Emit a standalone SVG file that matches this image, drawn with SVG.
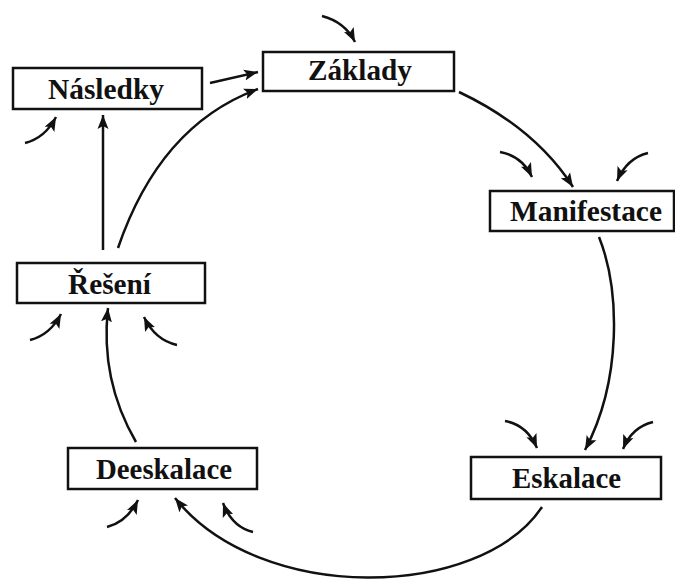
<svg xmlns="http://www.w3.org/2000/svg" width="675" height="581" viewBox="0 0 675 581">
<style>
.box{fill:#fff;stroke:#111;stroke-width:2.5}
.lbl{font-family:"Liberation Serif","Times New Roman",serif;font-weight:bold;font-size:29px;fill:#111}
.c{fill:none;stroke:#111;stroke-width:2.5;marker-end:url(#ah)}
</style>
<defs>
<marker id="ah" markerUnits="userSpaceOnUse" markerWidth="15" markerHeight="12" refX="14" refY="5.5" orient="auto" viewBox="0 0 15 11">
<path d="M0,0 L14,5.5 L0,11 L3,5.5 z" fill="#111"/>
</marker>
</defs>
<rect width="675" height="581" fill="#fff"/>
<g id="connectors">
<path class="c" d="M210,83 L258,72"/>
<path class="c" d="M118,248 Q160,125 258,89"/>
<path class="c" d="M103,250 L103,115"/>
<path class="c" d="M459,92 Q535,128 573,187"/>
<path class="c" d="M599,237 C620,290 622,380 585,450"/>
<path class="c" d="M542,507 C480,600 260,605 175,498"/>
<path class="c" d="M136,442 Q100,380 108,308"/>
<path class="c" d="M322,16 Q345,22 355,42"/>
<path class="c" d="M25,143 Q45,138 56,117"/>
<path class="c" d="M500,152 Q522,156 532,177"/>
<path class="c" d="M648,153 Q627,158 617,181"/>
<path class="c" d="M30,340 Q50,335 61,314"/>
<path class="c" d="M177,345 Q155,340 144,317"/>
<path class="c" d="M107,527 Q127,522 138,500"/>
<path class="c" d="M253,532 Q232,527 223,503"/>
<path class="c" d="M505,421 Q527,425 537,448"/>
<path class="c" d="M653,422 Q632,427 623,449"/>
</g>
<g id="nasledky"><rect class="box" x="13" y="68" width="189" height="41"/><text class="lbl" x="48" y="99" textLength="116" lengthAdjust="spacingAndGlyphs">Následky</text></g>
<g id="zaklady"><rect class="box" x="263" y="52" width="191" height="39"/><text class="lbl" x="308" y="80" textLength="104" lengthAdjust="spacingAndGlyphs">Základy</text></g>
<g id="manifestace"><rect class="box" x="490" y="191" width="184" height="40"/><text class="lbl" x="510" y="221" textLength="152" lengthAdjust="spacingAndGlyphs">Manifestace</text></g>
<g id="reseni"><rect class="box" x="17" y="263" width="188" height="40"/><text class="lbl" x="68" y="294" textLength="83" lengthAdjust="spacingAndGlyphs">Řešení</text></g>
<g id="deeskalace"><rect class="box" x="68" y="448" width="189" height="41"/><text class="lbl" x="96" y="479" textLength="136" lengthAdjust="spacingAndGlyphs">Deeskalace</text></g>
<g id="eskalace"><rect class="box" x="471" y="457" width="190" height="42"/><text class="lbl" x="512" y="488" textLength="109" lengthAdjust="spacingAndGlyphs">Eskalace</text></g>
</svg>
